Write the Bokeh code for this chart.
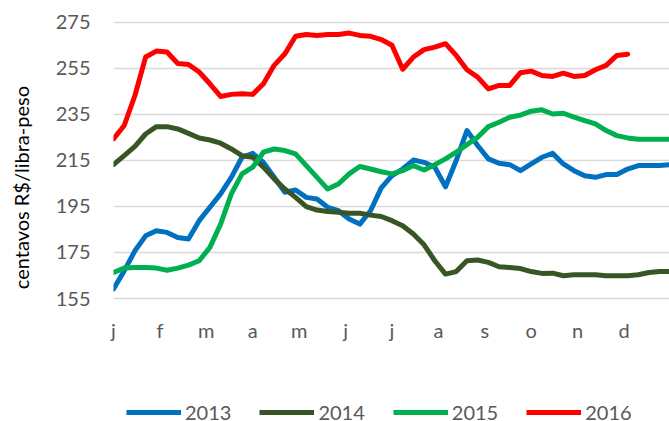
from bokeh.plotting import figure
from bokeh.layouts import column
from bokeh.models import Range1d, FixedTicker, Legend, LegendItem, ColumnDataSource
from bokeh.embed import file_html
from bokeh.resources import INLINE

months = ["j", "f", "m", "a", "m", "j", "j", "a", "s", "o", "n", "d"]
y_ticks = [155, 175, 195, 215, 235, 255, 275]

s2013 = [159.1, 167.0, 175.7, 182.2, 184.4, 183.7, 181.5, 180.8, 188.8, 194.6, 200.4, 207.6, 216.3,
         218.0, 214.1, 207.6, 201.1, 202.1, 198.9, 198.2, 194.6, 193.1, 189.5, 187.3, 193.1, 203.0,
         208.3, 211.2, 215.1, 214.1, 212.0, 203.5, 214.9, 227.9, 221.4, 215.6, 213.7, 213.1, 210.5,
         213.4, 216.3, 218.0, 213.4, 210.5, 208.3, 207.6, 208.8, 208.8, 211.2, 212.7, 212.7, 212.7, 213.1]
s2014 = [213.1, 217.0, 221.0, 226.4, 229.6, 229.6, 228.6, 226.7, 224.7, 223.8, 222.4, 219.9, 217.0,
         216.3, 212.0, 206.9, 202.5, 198.9, 194.9, 193.4, 192.8, 192.4, 192.0, 192.0, 191.2, 190.6,
         188.8, 186.6, 183.0, 178.3, 171.4, 165.6, 166.7, 171.4, 171.7, 170.7, 168.8, 168.5, 168.0,
         166.7, 165.9, 166.0, 164.9, 165.3, 165.3, 165.3, 164.9, 164.9, 164.9, 165.3, 166.3, 166.7, 166.7]
s2015 = [166.3, 168.2, 168.5, 168.5, 168.2, 167.3, 168.2, 169.5, 171.4, 177.2, 187.3, 200.4, 209.1,
         212.0, 218.5, 219.9, 219.2, 217.8, 212.7, 207.6, 202.5, 204.7, 209.1, 212.3, 211.2, 210.0,
         209.1, 210.5, 212.7, 210.8, 213.1, 215.6, 218.5, 221.8, 225.0, 229.6, 231.5, 233.7, 234.6,
         236.3, 236.9, 235.1, 235.4, 233.7, 232.2, 230.8, 227.9, 225.7, 224.7, 224.1, 224.1, 224.1, 224.1]
s2016 = [224.3, 230.1, 243.1, 259.8, 262.4, 262.0, 257.0, 256.6, 253.3, 248.2, 242.7, 243.6, 243.9,
         243.6, 248.2, 256.2, 261.2, 268.8, 269.6, 269.2, 269.6, 269.6, 270.2, 269.2, 268.8, 267.4,
         264.9, 254.5, 259.8, 263.0, 264.1, 265.6, 260.5, 254.3, 251.1, 246.0, 247.5, 247.5, 253.0,
         253.7, 251.8, 251.4, 252.8, 251.4, 251.8, 254.3, 256.2, 260.5, 261.0]

series = [("2013", s2013, "#0070C0"), ("2014", s2014, "#375623"),
          ("2015", s2015, "#00B050"), ("2016", s2016, "#FF0000")]

FONT = "Lato"
GRAY = "#595959"

# main chart
p = figure(frame_width=556, frame_height=297, output_backend="svg", toolbar_location=None,
           x_range=Range1d(0, 11.98), y_range=Range1d(149.8, 278.7),
           min_border_left=113, min_border_right=0, min_border_top=13, min_border_bottom=74)
p.outline_line_color = None
p.background_fill_color = "white"

p.xaxis.ticker = FixedTicker(ticks=list(range(len(months))))
p.xaxis.major_label_overrides = {i: m for i, m in enumerate(months)}
p.yaxis.ticker = FixedTicker(ticks=y_ticks)
for ax in (p.xaxis, p.yaxis):
    ax.axis_line_color = None
    ax.major_tick_line_color = None
    ax.minor_tick_line_color = None
    ax.major_tick_out = 0
    ax.major_tick_in = 0
    ax.minor_tick_out = 0
    ax.major_label_text_font = FONT
    ax.major_label_text_font_size = "20px"
    ax.major_label_text_color = GRAY
p.xaxis.major_label_standoff = 7
p.yaxis.major_label_standoff = 23
p.yaxis.axis_label = "centavos R$/libra-peso" + "\u00a0" * 10
p.yaxis.axis_label_text_font = FONT
p.yaxis.axis_label_text_font_size = "20px"
p.yaxis.axis_label_text_font_style = "normal"
p.yaxis.axis_label_text_color = "#000000"
p.yaxis.axis_label_standoff = 20
p.xgrid.grid_line_color = None
p.ygrid.grid_line_color = "#d9d9d9"
p.ygrid.grid_line_width = 1.5

# legend strip below the chart (its frame is aligned with the chart's frame)
pl = figure(width=669, height=37, output_backend="svg", toolbar_location=None,
            x_axis_location=None, y_axis_location=None, min_border=0,
            x_range=Range1d(0, 11.98), y_range=Range1d(0, 1))
pl.outline_line_color = None
pl.grid.visible = False

items = []
for name, vals, color in series:
    xs = [k * 12 / 52 for k in range(len(vals))]
    src = ColumnDataSource(dict(x=xs, y=vals))
    p.line("x", "y", source=src, line_color=color, line_width=5,
           line_join="round", line_cap="round")
    r2 = pl.line("x", "y", source=src, line_color=color, line_width=5, visible=False)
    items.append(LegendItem(label=name, renderers=[r2]))

legend = Legend(items=items, orientation="horizontal", location=(13, -3),
                glyph_width=55, glyph_height=20, label_standoff=4, spacing=28,
                padding=0, margin=0, border_line_color=None, background_fill_alpha=0,
                label_text_font=FONT, label_text_font_size="20px", label_text_color=GRAY)
pl.add_layout(legend)

layout = column(p, pl, spacing=0)
open("out.html", "w").write(file_html(layout, INLINE))
